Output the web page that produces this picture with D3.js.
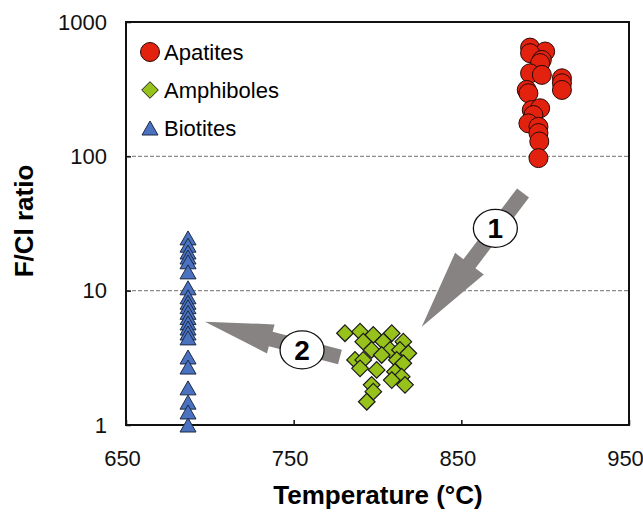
<!DOCTYPE html>
<html>
<head>
<meta charset="utf-8">
<script src="https://cdn.jsdelivr.net/npm/d3@7"></script>
<style>
  body { margin: 0; background: #fff; }
  svg { display: block; font-family: "Liberation Sans", Arial, sans-serif; }
</style>
</head>
<body>
<svg id="chart" width="643" height="513"></svg>
<script>
// temperatures (°C) and F/Cl ratios
var apatiteT = [891, 900, 891, 898, 897, 891, 898, 910, 910, 910, 889, 890, 892, 897, 893, 890, 896, 896, 896.5, 896];
var apatiteR = [645, 603, 586, 522, 494, 415, 404, 381, 350, 312, 312, 295, 221, 228, 203, 176, 166, 149, 129, 97];

var amphT = [780.6, 789.6, 797.5, 808.5, 815.4, 791.5, 803.5, 796.5, 807.5, 813.4, 818.4, 786.6, 791.5, 802.5, 811.5, 815.4, 789.6, 799.5, 810.4, 814.4, 796.5, 808.5, 816.4, 797.5, 793.6];
var amphR = [4.82, 4.95, 4.68, 4.82, 4.17, 4.17, 4.17, 3.62, 3.62, 3.62, 3.42, 3.05, 3.05, 3.32, 3.05, 2.88, 2.64, 2.57, 2.49, 2.29, 1.99, 2.16, 1.99, 1.77, 1.49];

var biotiteT = 687;
var biotiteR = [24.7, 21.8, 19.4, 17.8, 16.4, 13.8, 10.5, 9.0, 8.2, 7.6, 6.9, 6.3, 5.75, 5.27, 4.84, 4.45, 3.21, 2.70, 1.89, 1.48, 1.25, 1.0];

var xTicks = [650, 750, 850, 950];
var yTicks = [1, 10, 100, 1000];
var gridValues = [10, 100];

// numbered arrows, in data units (temperature, ratio)
var arrows = [
  { label: '1', tail: [886.8, 53.4], tip: [826.4, 5.39], headLen: 79, headHalf: 18, labelAt: [870.3, 29.1] },
  { label: '2', tail: [777.6, 3.21], tip: [697.1, 5.87], headLen: 68, headHalf: 15, labelAt: [755.0, 3.62] }
];

var legendItems = ['Apatites', 'Amphiboles', 'Biotites'];

var svg = d3.select('#chart');
var m = { left: 126, top: 22, right: 643 - 629, bottom: 513 - 425 };
var w = 643 - m.left - m.right,
  h = 513 - m.top - m.bottom;

var x = d3.scaleLinear().domain([650, 950]).range([0, w]);
var y = d3.scaleLog().domain([1, 1000]).range([h, 0]);

var g = svg.append('g').attr('transform', 'translate(' + m.left + ',' + m.top + ')');

// dashed gridlines
g.append('g').selectAll('line')
  .data(gridValues).enter()
  .append('line')
  .attr('x1', 0).attr('x2', w)
  .attr('y1', function(d) { return y(d); })
  .attr('y2', function(d) { return y(d); })
  .attr('stroke', '#8c8c8c')
  .attr('stroke-width', 1.3)
  .attr('stroke-dasharray', '4,2');

// axes
var xAxis = g.append('g')
  .attr('transform', 'translate(0,' + h + ')')
  .call(d3.axisBottom(x).tickValues(xTicks).tickFormat(d3.format('d'))
    .tickSizeInner(-5).tickSizeOuter(0).tickPadding(25));
var yAxis = g.append('g')
  .call(d3.axisLeft(y).tickValues(yTicks).tickFormat(d3.format('d'))
    .tickSizeInner(-5).tickSizeOuter(0).tickPadding(19));

[xAxis, yAxis].forEach(function(a) {
  a.select('.domain').remove();
  a.selectAll('line').attr('stroke', '#111').attr('stroke-width', 1.5);
  a.selectAll('text')
    .attr('fill', '#111')
    .style('font-size', '22px')
    .style('font-family', '"Liberation Sans", Arial, sans-serif');
});
xAxis.selectAll('text').attr('dx', -4);

// frame
g.append('rect')
  .attr('width', w).attr('height', h)
  .attr('fill', 'none')
  .attr('stroke', '#111')
  .attr('stroke-width', 2);

// arrows
function arrowPath(a) {
  var x0 = x(a.tail[0]), y0 = y(a.tail[1]),
    x1 = x(a.tip[0]), y1 = y(a.tip[1]);
  var len = Math.sqrt((x1 - x0) * (x1 - x0) + (y1 - y0) * (y1 - y0));
  var ux = (x1 - x0) / len, uy = (y1 - y0) / len,
    nx = -uy, ny = ux;
  var bx = x1 - ux * a.headLen, by = y1 - uy * a.headLen;
  var sw = 7.5;
  var pts = [
    [x0 + nx * sw, y0 + ny * sw],
    [bx + nx * sw, by + ny * sw],
    [bx + nx * a.headHalf, by + ny * a.headHalf],
    [x1, y1],
    [bx - nx * a.headHalf, by - ny * a.headHalf],
    [bx - nx * sw, by - ny * sw],
    [x0 - nx * sw, y0 - ny * sw]
  ];
  return 'M' + pts.map(function(p) { return p.join(','); }).join('L') + 'Z';
}

g.append('g').selectAll('path')
  .data(arrows).enter()
  .append('path')
  .attr('d', arrowPath)
  .attr('fill', '#878383');

// markers
var diamond = 'M0,-8.3L8.3,0L0,8.3L-8.3,0Z';
var triangle = 'M0,-7L8,7L-8,7Z';

g.append('g').selectAll('path')
  .data(biotiteR).enter()
  .append('path')
  .attr('d', triangle)
  .attr('transform', function(d) { return 'translate(' + x(biotiteT) + ',' + y(d) + ')'; })
  .attr('fill', '#4a72c0')
  .attr('stroke', '#1c2a44')
  .attr('stroke-width', 1);

g.append('g').selectAll('path')
  .data(amphT).enter()
  .append('path')
  .attr('d', diamond)
  .attr('transform', function(d, i) { return 'translate(' + x(d) + ',' + y(amphR[i]) + ')'; })
  .attr('fill', '#97c11b')
  .attr('stroke', '#1a1a1a')
  .attr('stroke-width', 1.2);

g.append('g').selectAll('circle')
  .data(apatiteT).enter()
  .append('circle')
  .attr('cx', function(d) { return x(d); })
  .attr('cy', function(d, i) { return y(apatiteR[i]); })
  .attr('r', 9.5)
  .attr('fill', '#e2210f')
  .attr('stroke', '#2a0a05')
  .attr('stroke-width', 1);

// numbered labels on the arrows
var labels = g.append('g').selectAll('g')
  .data(arrows).enter()
  .append('g')
  .attr('transform', function(d) { return 'translate(' + x(d.labelAt[0]) + ',' + y(d.labelAt[1]) + ')'; });
labels.append('ellipse')
  .attr('rx', 22).attr('ry', 19)
  .attr('fill', '#fff')
  .attr('stroke', '#111')
  .attr('stroke-width', 1.3);
labels.append('text')
  .attr('text-anchor', 'middle')
  .attr('dy', '0.36em')
  .style('font-size', '28px')
  .style('font-weight', 'bold')
  .attr('fill', '#000')
  .text(function(d) { return d.label; });

// legend
var legend = g.append('g').attr('transform', 'translate(24,30)');
var legendRow = legend.selectAll('g')
  .data(legendItems).enter()
  .append('g')
  .attr('transform', function(d, i) { return 'translate(0,' + (i * 38) + ')'; });
legendRow.each(function(d, i) {
  var sel = d3.select(this);
  if (i === 0) {
    sel.append('circle').attr('r', 9.5).attr('fill', '#e2210f').attr('stroke', '#2a0a05');
  } else if (i === 1) {
    sel.append('path').attr('d', diamond).attr('fill', '#97c11b').attr('stroke', '#1a1a1a');
  } else {
    sel.append('path').attr('d', triangle).attr('fill', '#4a72c0').attr('stroke', '#1c2a44');
  }
});
legendRow.append('text')
  .attr('x', 14)
  .attr('dy', '0.36em')
  .style('font-size', '22px')
  .attr('fill', '#000')
  .text(function(d) { return d; });

// axis titles
svg.append('text')
  .attr('x', 378).attr('y', 504)
  .attr('text-anchor', 'middle')
  .style('font-size', '26px')
  .style('font-weight', 'bold')
  .text('Temperature (°C)');

svg.append('text')
  .attr('transform', 'translate(33,221) rotate(-90)')
  .attr('text-anchor', 'middle')
  .style('font-size', '26px')
  .style('font-weight', 'bold')
  .text('F/Cl ratio');
</script>
</body>
</html>
